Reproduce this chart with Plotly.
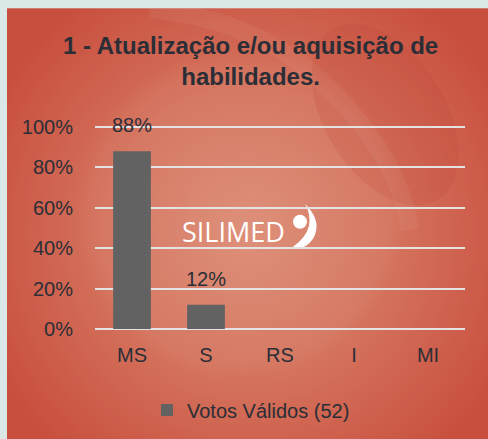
import base64
import plotly.graph_objects as go

categories = ["MS", "S", "RS", "I", "MI"]
values = [0.88, 0.12, 0, 0, 0]
series_name = "Votos Válidos (52)"
title_text = "1 - Atualização e/ou aquisição de<br>habilidades."
y_ticks = [0, 0.2, 0.4, 0.6, 0.8, 1.0]
y_tick_labels = ["0%", "20%", "40%", "60%", "80%", "100%"]

W, H = 488, 439
YTOP = 1.03
ML, MR, MB = 95, 23, 110
MT = (H - MB) - YTOP * 201.5
FONT = "Liberation Sans, Arial, sans-serif"
TXT = "#2b2e36"
FS = 20

svg = f'''<svg xmlns="http://www.w3.org/2000/svg" width="{W}" height="{H}" viewBox="0 0 {W} {H}">
<defs>
<radialGradient id="g" cx="250" cy="235" r="290" gradientUnits="userSpaceOnUse">
<stop offset="0" stop-color="#db876f"/>
<stop offset="0.5" stop-color="#d4725c"/>
<stop offset="1" stop-color="#c84e3d"/>
</radialGradient>
<radialGradient id="c" cx="240" cy="215" r="165" gradientUnits="userSpaceOnUse">
<stop offset="0" stop-color="#ffffff" stop-opacity="0.08"/>
<stop offset="0.9" stop-color="#ffffff" stop-opacity="0.04"/>
<stop offset="1" stop-color="#ffffff" stop-opacity="0"/>
</radialGradient>
</defs>
<rect x="0" y="0" width="{W}" height="{H}" fill="#dbe8e8"/>
<rect x="7" y="9" width="{W-7}" height="{H-9}" fill="url(#g)"/>
<circle cx="240" cy="215" r="165" fill="url(#c)"/>
<ellipse cx="385" cy="115" rx="60" ry="100" transform="rotate(-32 385 115)" fill="#b8402f" fill-opacity="0.16"/>
<path d="M 150 10 Q 260 20 330 90 Q 400 160 410 230" stroke="#ffffff" stroke-opacity="0.05" stroke-width="18" fill="none"/>
<circle cx="300" cy="222" r="7" fill="#ffffff"/>
<path d="M 305 204 Q 323 222 313 239 Q 305 251 293 247 Q 306 238 309 226 Q 311 214 305 204 Z" fill="#ffffff"/>
</svg>'''
src = "data:image/svg+xml;base64," + base64.b64encode(svg.encode()).decode()

pw, ph = W - ML - MR, H - MT - MB

fig = go.Figure()
fig.add_trace(go.Bar(
    x=categories, y=values, name=series_name, width=0.51,
    marker=dict(color="#626262", line=dict(width=0)),
    showlegend=True,
))

for c, v in zip(categories, values):
    if v > 0:
        fig.add_annotation(x=c, y=v, text=f"{round(v*100)}%", showarrow=False,
                           yanchor="bottom", yshift=13,
                           font=dict(family=FONT, size=FS, color=TXT))

fig.add_annotation(x=(233 - ML) / pw, y=1 - (232 - MT) / ph, xref="paper", yref="paper",
                   text="SILIMED", showarrow=False, xanchor="center", yanchor="middle",
                   font=dict(family="Open Sans, sans-serif", size=27, color="#ffffff"))

fig.add_annotation(x=(250 - ML) / pw, y=1 + (MT - 61.5) / ph, xref="paper", yref="paper",
                   text="<b>" + title_text + "</b>", showarrow=False,
                   xanchor="center", yanchor="middle",
                   font=dict(family=FONT, size=24, color=TXT))

fig.add_layout_image(dict(source=src, xref="paper", yref="paper",
                          x=-ML / pw, y=1 + MT / ph, sizex=W / pw, sizey=H / ph,
                          xanchor="left", yanchor="top", sizing="stretch", layer="below"))

fig.update_layout(
    width=W, height=H,
    margin=dict(l=ML, r=MR, t=MT, b=MB, pad=0),
    paper_bgcolor="#dbe8e8", plot_bgcolor="rgba(0,0,0,0)",
    font=dict(family=FONT, size=FS, color=TXT),
    legend=dict(orientation="h", x=251 / W, xanchor="center", xref="container",
                y=1 - 410 / H, yanchor="middle", yref="container",
                font=dict(family=FONT, size=FS, color=TXT),
                bgcolor="rgba(0,0,0,0)"),
    xaxis=dict(showgrid=False, showline=False, ticks="outside", ticklen=8,
               tickcolor="rgba(0,0,0,0)", tickfont=dict(size=FS, color=TXT)),
    yaxis=dict(range=[0, YTOP], tickvals=y_ticks, ticktext=y_tick_labels,
               showgrid=True, gridcolor="#e4e2e2", gridwidth=2,
               zeroline=True, zerolinecolor="#e4e2e2", zerolinewidth=2,
               showline=False, ticks="outside", ticklen=17,
               tickcolor="rgba(0,0,0,0)", tickfont=dict(size=FS, color=TXT)),
)

fig.write_html("out.html")
